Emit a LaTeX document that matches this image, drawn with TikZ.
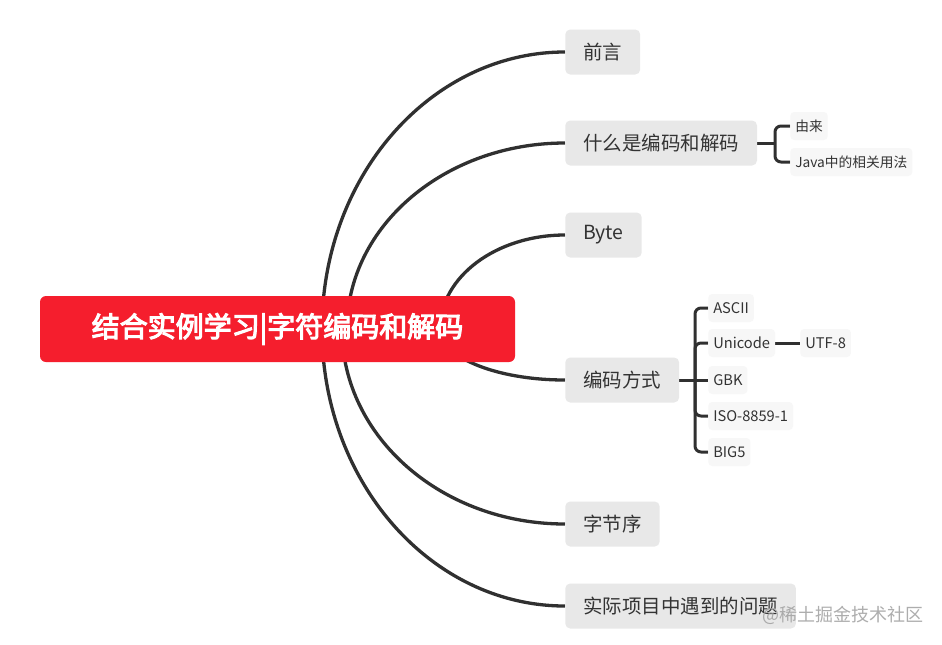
\documentclass[tikz,border=0pt]{standalone}
\usepackage{fontspec}
\setmainfont{Noto Sans CJK SC}
\newfontfamily\cjkbold[FakeBold=4]{Noto Sans CJK SC}
\usetikzlibrary{positioning}
\pgfdeclarelayer{background}
\pgfsetlayers{background,main}
\definecolor{rootred}{RGB}{245,30,45}
\definecolor{boxgray}{RGB}{232,232,232}
\definecolor{leafgray}{RGB}{247,247,247}
\definecolor{ink}{RGB}{51,51,51}
\definecolor{linec}{RGB}{48,48,48}
\def\pxu{0.75pt}
\tikzset{
  rootbox/.style={fill=rootred, rounded corners=6*\pxu, minimum width=475*\pxu, minimum height=66*\pxu,
    text=white, font=\cjkbold\fontsize{21pt}{25pt}\selectfont, inner sep=0pt},
  branch/.style={fill=boxgray, rounded corners=5*\pxu, minimum height=45*\pxu, inner xsep=18*\pxu,
    inner ysep=0pt, anchor=west, text=ink, font=\fontsize{14.6pt}{17pt}\selectfont},
  leaf/.style={fill=leafgray, rounded corners=4*\pxu, minimum height=28*\pxu, inner xsep=5*\pxu,
    inner ysep=0pt, anchor=west, text=ink, font=\fontsize{10.3pt}{12pt}\selectfont},
  enc/.style={leaf, font=\fontsize{11pt}{13pt}\selectfont},
  conn/.style={draw=linec, line width=3.3*\pxu},
  sub/.style={draw=linec, line width=3*\pxu, rounded corners=6*\pxu},
}
\begin{document}
\begin{tikzpicture}[x=0.75pt, y=-0.75pt]
\useasboundingbox (0,0) rectangle (942,644);

\node[rootbox] (root) at (277.5,329) {结合实例学习|字符编码和解码};

\node[branch] (n1) at (565,52) {前言};
\node[branch] (n2) at (565,143) {什么是编码和解码};
\node[branch] (n3) at (565,235) {Byte};
\node[branch] (n4) at (565,380) {编码方式};
\node[branch] (n5) at (565,524) {字节序};
\node[branch] (n6) at (565,606) {实际项目中遇到的问题};

\node[leaf] (l1) at (790,126) {由来};
\node[leaf] (l2) at (790,162) {Java中的相关用法};

\node[enc] (c1) at (708,308) {ASCII};
\node[enc] (c2) at (708,343) {Unicode};
\node[enc] (c3) at (708,380) {GBK};
\node[enc] (c4) at (708,416) {ISO-8859-1};
\node[enc] (c5) at (708,452) {BIG5};
\node[enc] (u8) at (800,343) {UTF-8};

\coordinate (s1) at (322,329);
\coordinate (s2) at (347,329);
\coordinate (s3) at (440,329);
\coordinate (s4) at (440,329);
\coordinate (s5) at (342,329);
\coordinate (s6) at (322,329);
\coordinate (b1) at (775,143);
\coordinate (b2) at (695,380);

\begin{pgfonlayer}{background}
\fill[white] (0,0) rectangle (942,644);
\draw[conn] (s1) .. controls +(0,-153) and +(-134,0) .. (n1.west);
\draw[conn] (s2) .. controls +(0,-103) and +(-120,0) .. (n2.west);
\draw[conn] (s3) .. controls +(0,-52) and +(-69,0) .. (n3.west);
\draw[conn] (s4) .. controls +(0,28) and +(-69,0) .. (n4.west);
\draw[conn] (s5) .. controls +(0,108) and +(-123,0) .. (n5.west);
\draw[conn] (s6) .. controls +(0,153) and +(-134,0) .. (n6.west);

\draw[sub] (n2.east) -- (b1);
\draw[sub] (l1.west) -| (b1) |- (l2.west);

\draw[sub] (n4.east) -- (b2);
\draw[sub] (c1.west) -| (b2) |- (c5.west);
\draw[sub] (b2) |- (c2.west);
\draw[sub] (b2) |- (c4.west);
\draw[sub] (b2) -- (c3.west);
\draw[sub] (c2.east) -- (u8.west);
\end{pgfonlayer}

\node[text=gray!75, opacity=0.85, font=\fontsize{13.5pt}{16pt}\selectfont, anchor=west, inner sep=0pt] (wm) at (762,615) {@稀土掘金技术社区};
\end{tikzpicture}
\end{document}
